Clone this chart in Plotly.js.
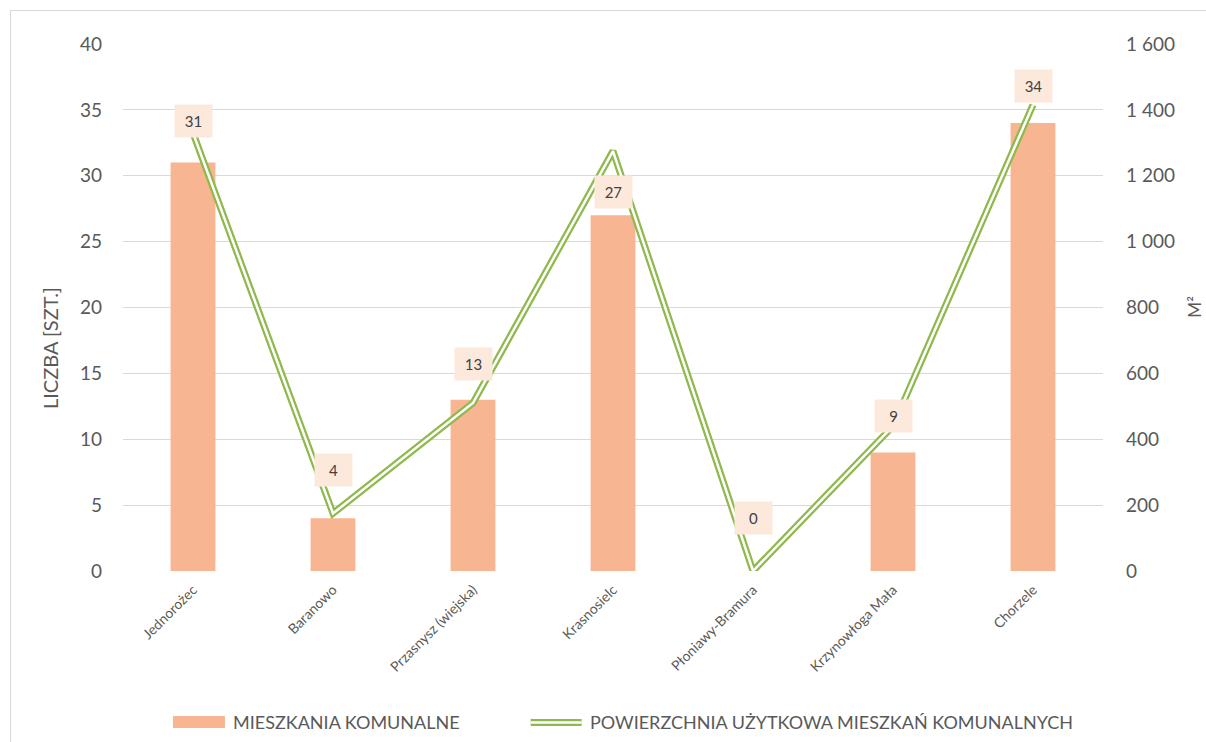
<!DOCTYPE html>
<html>
<head>
<meta charset="utf-8">
<script src="https://cdn.plot.ly/plotly-3.0.1.min.js"></script>
<style>
  html, body { margin: 0; padding: 0; background: #fff; overflow: hidden; }
  #chart { position: absolute; left: 10px; top: 10px; width: 1200px; height: 740px; }
  #frame { position: absolute; left: 10px; top: 10px; width: 1200px; height: 740px; border: 1px solid #d9d9d9; pointer-events: none; }
</style>
</head>
<body>
<div id="chart"></div>
<div id="frame"></div>
<script>
const categories = ['Jednorożec', 'Baranowo', 'Przasnysz (wiejska)', 'Krasnosielc', 'Płoniawy-Bramura', 'Krzynowłoga Mała', 'Chorzele'];
const flats = [31, 4, 13, 27, 0, 9, 34];
const area = [1330, 175, 510, 1275, 0, 440, 1415];
const leftTicks = [0, 5, 10, 15, 20, 25, 30, 35, 40];
const rightTicks = [0, 200, 400, 600, 800, 1000, 1200, 1400, 1600];
const labelShift = [42, 48, 36, 23, 53, 36, 37];

const barName = 'MIESZKANIA KOMUNALNE';
const lineName = 'POWIERZCHNIA UŻYTKOWA MIESZKAŃ KOMUNALNYCH';
const FONT = 'Lato, "Open Sans", sans-serif';
const GRAY = '#595959';
const GREEN = '#8FB94D';
const PEACH = '#F8B591';

const traces = [
  { type: 'bar', x: categories, y: flats, name: barName, marker: { color: PEACH }, showlegend: false },
  { type: 'scatter', mode: 'lines', x: categories, y: area, yaxis: 'y2', name: lineName,
    line: { color: GREEN, width: 7 }, showlegend: false },
  { type: 'scatter', mode: 'lines', x: categories, y: area, yaxis: 'y2', name: lineName,
    line: { color: '#ffffff', width: 2.5 }, showlegend: false, hoverinfo: 'skip' }
];

const annotations = categories.map((c, i) => ({
  x: c, y: flats[i], xref: 'x', yref: 'y', yshift: labelShift[i],
  text: String(flats[i]), showarrow: false,
  bgcolor: '#FDE9DB', width: 35, height: 30, align: 'center', valign: 'middle',
  font: { family: FONT, size: 15, color: '#404040' }
}));
annotations.push({
  xref: 'paper', yref: 'paper', x: -0.0745, y: 0.423, text: 'LICZBA [SZT.]', textangle: -90,
  showarrow: false, xanchor: 'center', yanchor: 'middle', font: { family: FONT, size: 20, color: GRAY }
});
annotations.push({
  xref: 'paper', yref: 'paper', x: 1.093, y: 0.5, text: 'M²', textangle: -90,
  showarrow: false, xanchor: 'center', yanchor: 'middle', font: { family: FONT, size: 17, color: GRAY }
});
// legend texts
annotations.push({
  xref: 'paper', yref: 'paper', x: 0.110, y: -0.2865, text: barName, showarrow: false,
  xanchor: 'left', yanchor: 'middle', font: { family: FONT, size: 18, color: GRAY }
});
annotations.push({
  xref: 'paper', yref: 'paper', x: 0.4745, y: -0.2865, text: lineName, showarrow: false,
  xanchor: 'left', yanchor: 'middle', font: { family: FONT, size: 18, color: GRAY }
});

const shapes = [
  { type: 'rect', xref: 'paper', yref: 'paper', x0: 0.051, x1: 0.104, y0: -0.298, y1: -0.275,
    fillcolor: PEACH, line: { width: 0 } },
  { type: 'line', xref: 'paper', yref: 'paper', x0: 0.416, x1: 0.468, y0: -0.2875, y1: -0.2875,
    line: { color: GREEN, width: 7 } },
  { type: 'line', xref: 'paper', yref: 'paper', x0: 0.416, x1: 0.468, y0: -0.2875, y1: -0.2875,
    line: { color: '#ffffff', width: 2.5 } }
];

const layout = {
  width: 1200, height: 740,
  margin: { l: 113, r: 107, t: 34, b: 179 },
  paper_bgcolor: '#ffffff', plot_bgcolor: '#ffffff',
  separators: ', ',
  bargap: 0.68,
  font: { family: FONT, color: GRAY },
  showlegend: false,
  xaxis: { type: 'category', showgrid: false, zeroline: false, showline: false,
    tickangle: -45, tickfont: { family: FONT, size: 14, color: GRAY }, ticks: '', ticklabelstandoff: 7 },
  yaxis: { range: [0, 40], tickvals: leftTicks, showgrid: true, gridcolor: '#d9d9d9', gridwidth: 1,
    zeroline: false, showline: false, ticks: '', ticklabelstandoff: 20,
    tickfont: { family: FONT, size: 19, color: GRAY } },
  yaxis2: { range: [0, 1600], tickvals: rightTicks, overlaying: 'y', side: 'right', showgrid: false,
    zeroline: false, showline: false, ticks: '', ticklabelstandoff: 22, tickformat: ',d',
    tickfont: { family: FONT, size: 19, color: GRAY } },
  annotations: annotations,
  shapes: shapes
};

Plotly.newPlot('chart', traces, layout, { displayModeBar: false, staticPlot: true });
</script>
</body>
</html>
